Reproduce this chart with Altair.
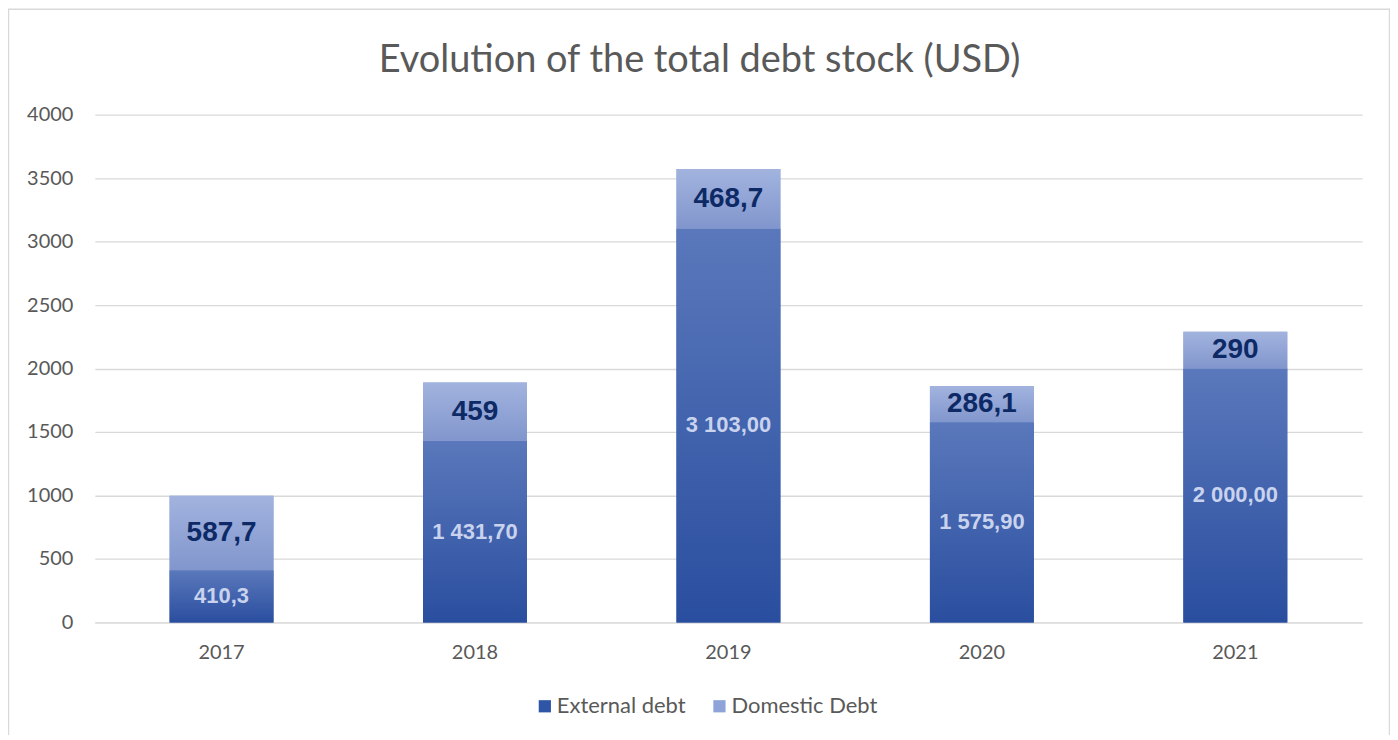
import altair as alt
import pandas as pd

years = ["2017", "2018", "2019", "2020", "2021"]
external = [410.3, 1431.7, 3103.0, 1575.9, 2000.0]
domestic = [587.7, 459.0, 468.7, 286.1, 290.0]
external_labels = ["410,3", "1 431,70", "3 103,00", "1 575,90", "2 000,00"]
domestic_labels = ["587,7", "459", "468,7", "286,1", "290"]
series = ["External debt", "Domestic Debt"]
title_text = "Evolution of the total debt stock (USD)"

rows = []
for i, yr in enumerate(years):
    e, d = external[i], domestic[i]
    rows.append(dict(year=yr, series=series[0], y0=0.0, y1=e, mid=e / 2, label=external_labels[i]))
    rows.append(dict(year=yr, series=series[1], y0=e, y1=e + d, mid=e + d / 2, label=domestic_labels[i]))
df = pd.DataFrame(rows)

FONT = "Lato"
x_enc = alt.X("year:N", title=None, sort=years,
              scale=alt.Scale(paddingInner=0.59, paddingOuter=0.295),
              axis=alt.Axis(labelAngle=0, ticks=False, domain=True, domainColor="#D9D9D9",
                            labelPadding=20, labelFontSize=20, labelColor="#595959", labelFont=FONT))
y_enc = alt.Y("y0:Q", title=None, scale=alt.Scale(domain=[0, 4000]),
              axis=alt.Axis(values=list(range(0, 4001, 500)), format="d", ticks=False, domain=False,
                            gridColor="#D9D9D9", gridWidth=1.3, labelPadding=22,
                            labelFontSize=20, labelColor="#595959", labelFont=FONT))

base = alt.Chart(df)
single = alt.Chart(pd.DataFrame({"t": [title_text]}))

border = single.mark_rect(
    fill="transparent", stroke="#D9D9D9", strokeWidth=1.5
).encode(x=alt.value(-86.5), x2=alt.value(1297.5), y=alt.value(-105.5), y2=alt.value(700))

title = single.mark_text(font=FONT, fontSize=38, color="#595959", align="center",
                         baseline="alphabetic").encode(
    x=alt.value(606), y=alt.value(-43), text="t:N")

legend_bars = base.mark_bar().encode(
    x=x_enc, y=y_enc, y2="y1:Q",
    color=alt.Color("series:N", sort=series, title=None,
                    scale=alt.Scale(domain=series, range=["#2F55A7", "#8EA3D7"]),
                    legend=alt.Legend(orient="none", legendX=440, legendY=582, direction="horizontal",
                                      symbolType="square", symbolSize=150, labelFontSize=22,
                                      labelFont=FONT, labelColor="#595959", columnPadding=22,
                                      labelOffset=1, symbolStrokeWidth=0)),
)

ext_grad = alt.Gradient(gradient="linear", x1=0, y1=1, x2=0, y2=0,
                        stops=[alt.GradientStop(color="#2A4E9F", offset=0),
                               alt.GradientStop(color="#5A78BB", offset=1)])
dom_grad = alt.Gradient(gradient="linear", x1=0, y1=1, x2=0, y2=0,
                        stops=[alt.GradientStop(color="#8196CD", offset=0),
                               alt.GradientStop(color="#A2B3DE", offset=1)])

ext_bars = base.transform_filter(alt.datum.series == series[0]).mark_bar(color=ext_grad).encode(
    x=x_enc, y=y_enc, y2="y1:Q")
dom_bars = base.transform_filter(alt.datum.series == series[1]).mark_bar(color=dom_grad).encode(
    x=x_enc, y=y_enc, y2="y1:Q")

ext_text = base.transform_filter(alt.datum.series == series[0]).mark_text(
    font="Liberation Sans", fontWeight="bold", fontSize=22, color="#C9D3EE", baseline="middle"
).encode(x=alt.X("year:N", sort=years), y=alt.Y("mid:Q"), text="label:N")
dom_text = base.transform_filter(alt.datum.series == series[1]).mark_text(
    font="Liberation Sans", fontWeight="bold", fontSize=28, color="#0D2A66", baseline="middle"
).encode(x=alt.X("year:N", sort=years), y=alt.Y("mid:Q"), text="label:N")

chart = alt.layer(border, title, legend_bars, ext_bars, dom_bars, ext_text, dom_text).properties(
    width=1270, height=509,
    padding={"left": 87, "top": 106, "right": 28, "bottom": 112},
    autosize=alt.AutoSizeParams(type="none"),
).configure(background="white").configure_view(stroke=None)

chart.save("out.html", embed_options={"renderer": "svg", "actions": False})
